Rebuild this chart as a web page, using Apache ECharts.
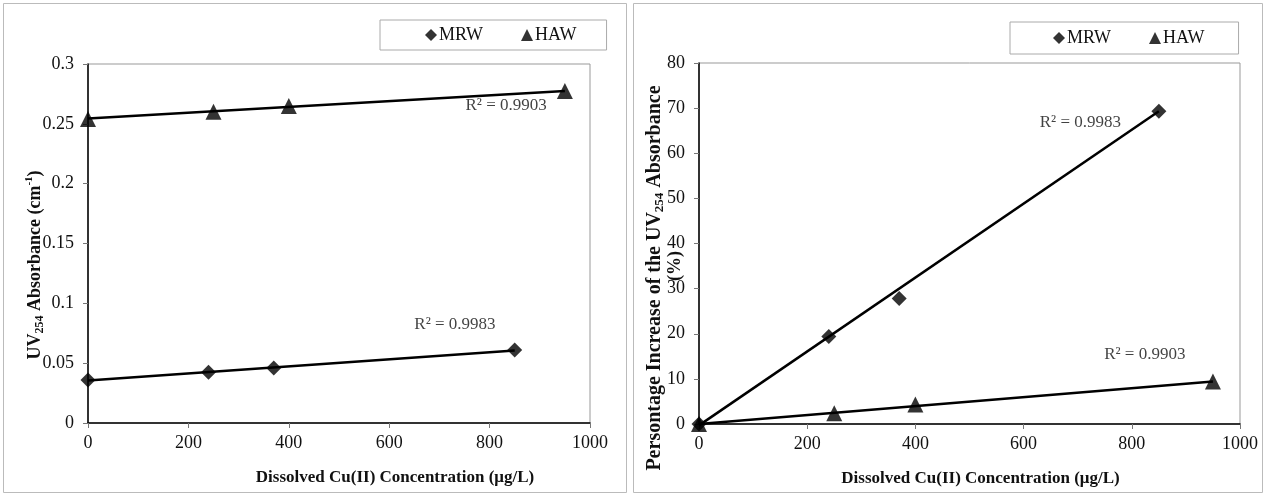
<!DOCTYPE html>
<html><head><meta charset="utf-8">
<script src="https://cdn.jsdelivr.net/npm/echarts@6/dist/echarts.min.js"></script>
<style>html,body{margin:0;padding:0;background:#fff}#c{width:1266px;height:493px}</style>
</head><body><div id="c"></div>
<script>
// ---- data ----
const xTicks = [0, 200, 400, 600, 800, 1000];
// Left panel: UV254 absorbance (cm-1)
const leftMRW = [[0, 0.036], [240, 0.0425], [370, 0.046], [850, 0.061]];
const leftHAW = [[0, 0.254], [250, 0.26], [400, 0.265], [950, 0.2775]];
const leftMRWTrend = [[0, 0.0355], [850, 0.0605]];
const leftHAWTrend = [[0, 0.2545], [950, 0.2775]];
const leftR2 = [{value: [833, 0.265], name: 'R² = 0.9903'}, {value: [731, 0.082], name: 'R² = 0.9983'}];
// Right panel: percentage increase (%)
const rightMRW = [[0, 0], [240, 19.4], [370, 27.8], [850, 69.3]];
const rightHAW = [[0, 0], [250, 2.4], [400, 4.3], [950, 9.4]];
const rightMRWTrend = [[0, -0.3], [850, 69.3]];
const rightHAWTrend = [[0, 0], [950, 9.4]];
const rightR2 = [{value: [705, 66.7], name: 'R² = 0.9983'}, {value: [824, 15.3], name: 'R² = 0.9903'}];

const FONT = '"Liberation Serif", "Times New Roman", serif';
const chart = echarts.init(document.getElementById('c'));

function xAxis(gi) {
  return {
    type: 'value', gridIndex: gi, min: xTicks[0], max: xTicks[xTicks.length - 1], interval: xTicks[1] - xTicks[0],
    name: 'Dissolved Cu(II) Concentration (μg/L)', nameLocation: 'middle', nameGap: 46,
    nameTextStyle: {fontFamily: FONT, fontWeight: 'bold', fontSize: 17, color: '#111', padding: gi === 0 ? [0, 0, 0, 112] : [0, 0, 0, 22]},
    axisLine: {show: true, lineStyle: {color: '#000', width: 1.5}},
    axisTick: {show: true, length: 5, lineStyle: {color: '#777'}},
    axisLabel: {fontFamily: FONT, fontSize: 18, color: '#111', margin: 11, formatter: v => String(v)},
    splitLine: {show: false}
  };
}
function yAxis(gi, max, interval) {
  return {
    type: 'value', gridIndex: gi, min: 0, max: max, interval: interval,
    axisLine: {show: true, lineStyle: {color: '#000', width: 1.5}},
    axisTick: {show: true, length: 5, lineStyle: {color: '#777'}},
    axisLabel: {fontFamily: FONT, fontSize: 18, color: '#111', margin: 14, formatter: v => String(v)},
    splitLine: {show: false}
  };
}
function scatter(name, data, gi, sym) {
  return {name: name, type: 'scatter', xAxisIndex: gi, yAxisIndex: gi, data: data,
    symbol: sym, symbolSize: sym === 'triangle' ? 16 : 15, clip: false, z: 5,
    itemStyle: {color: '#000'}};
}
function trend(data, gi) {
  return {type: 'line', xAxisIndex: gi, yAxisIndex: gi, data: data, symbol: 'none',
    silent: true, clip: false, lineStyle: {color: '#000', width: 2.5}, z: 4};
}
function r2(data, gi) {
  return {type: 'scatter', xAxisIndex: gi, yAxisIndex: gi, data: data, symbolSize: 1,
    silent: true, itemStyle: {color: 'rgba(0,0,0,0)'},
    label: {show: true, position: 'inside', formatter: '{b}', fontFamily: FONT, fontSize: 17, color: '#111'}};
}
const legendCommon = {
  orient: 'horizontal', itemWidth: 12, itemHeight: 12, itemGap: 38,
  backgroundColor: '#fff', borderColor: '#aaa', borderWidth: 1,
  textStyle: {fontFamily: FONT, fontSize: 18, color: '#111', padding: [0, 0, 0, -3]},
  data: [{name: 'MRW', icon: 'diamond'}, {name: 'HAW', icon: 'triangle'}]
};

chart.setOption({
  animation: false,
  backgroundColor: '#fff',
  grid: [
    {left: 88, top: 64, width: 502, height: 359, show: true, borderColor: '#999', borderWidth: 1, backgroundColor: 'transparent'},
    {left: 699, top: 63, width: 541, height: 361, show: true, borderColor: '#999', borderWidth: 1, backgroundColor: 'transparent'}
  ],
  legend: [
    Object.assign({}, legendCommon, {left: 380, top: 20, padding: [6, 30, 6, 45]}),
    Object.assign({}, legendCommon, {left: 1010, top: 22, padding: [7, 34, 7, 43]})
  ],
  xAxis: [xAxis(0), xAxis(1)],
  yAxis: [yAxis(0, 0.3, 0.05), yAxis(1, 80, 10)],
  series: [
    trend(leftMRWTrend, 0), trend(leftHAWTrend, 0),
    scatter('MRW', leftMRW, 0, 'diamond'), scatter('HAW', leftHAW, 0, 'triangle'),
    r2(leftR2, 0),
    trend(rightMRWTrend, 1), trend(rightHAWTrend, 1),
    scatter('MRW', rightMRW, 1, 'diamond'), scatter('HAW', rightHAW, 1, 'triangle'),
    r2(rightR2, 1)
  ],
  graphic: [
    {type: 'rect', shape: {x: 3.5, y: 3.5, width: 623, height: 489}, style: {fill: 'none', stroke: '#bbb', lineWidth: 1}, z: -1},
    {type: 'rect', shape: {x: 633.5, y: 3.5, width: 629, height: 489}, style: {fill: 'none', stroke: '#bbb', lineWidth: 1}, z: -1},
    {type: 'text', x: 35, y: 265, rotation: Math.PI / 2,
      style: {text: '{a|UV}{s|254}{a| Absorbance (cm}{p|-1}{a|)}', align: 'center', verticalAlign: 'middle',
        rich: {a: {fontFamily: FONT, fontWeight: 'bold', fontSize: 18, lineHeight: 22, fill: '#111'},
               s: {fontFamily: FONT, fontWeight: 'bold', fontSize: 12, lineHeight: 22, verticalAlign: 'bottom', fill: '#111'},
               p: {fontFamily: FONT, fontWeight: 'bold', fontSize: 11, lineHeight: 22, verticalAlign: 'top', fill: '#111'}}}},
    {type: 'text', x: 655, y: 278, rotation: Math.PI / 2,
      style: {text: '{a|Persontage Increase of the UV}{s|254}{a| Absorbance}', align: 'center', verticalAlign: 'middle',
        rich: {a: {fontFamily: FONT, fontWeight: 'bold', fontSize: 20, lineHeight: 22, fill: '#111'},
               s: {fontFamily: FONT, fontWeight: 'bold', fontSize: 13, lineHeight: 22, verticalAlign: 'bottom', fill: '#111'}}}},
    {type: 'text', x: 675, y: 266, rotation: Math.PI / 2,
      style: {text: '(%)', align: 'center', verticalAlign: 'middle', fontFamily: FONT, fontWeight: 'bold', fontSize: 18, fill: '#111'}}
  ]
});
</script></body></html>
